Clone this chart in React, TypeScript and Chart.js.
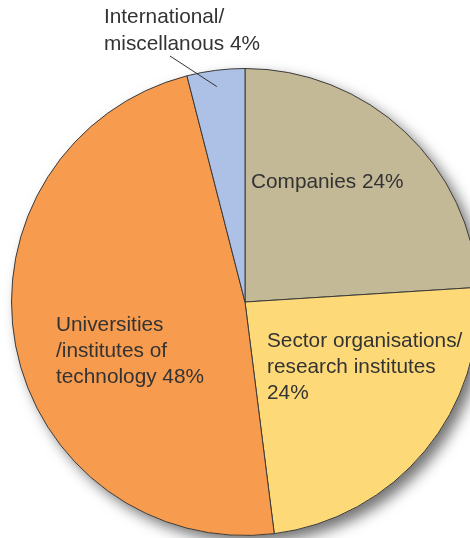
import React, { useEffect, useRef } from "react";
import { Chart, registerables } from "chart.js";

Chart.register(...registerables);

const categories = [
  "Companies",
  "Sector organisations/research institutes",
  "Universities/institutes of technology",
  "International/miscellanous",
];
const shares = [24, 24, 48, 4];
const sliceColors = ["#C3B996", "#FDD977", "#F79B4F", "#ADC1E6"];

// label text lines and their placement relative to the pie center (in px)
const labelLines = [
  { text: "Companies 24%", dx: 6, dy: -120 },
  { text: "Sector organisations/", dx: 22, dy: 39 },
  { text: "research institutes", dx: 22, dy: 65 },
  { text: "24%", dx: 22, dy: 91 },
  { text: "Universities", dx: -189, dy: 23 },
  { text: "/institutes of", dx: -189, dy: 49 },
  { text: "technology 48%", dx: -189, dy: 75 },
  { text: "International/", dx: -141, dy: -285 },
  { text: "miscellanous 4%", dx: -141, dy: -258 },
];

const shadowPlugin = {
  id: "pieShadow",
  beforeDatasetsDraw(chart: any) {
    const arc = chart.getDatasetMeta(0).data[0];
    if (!arc) return;
    const { x, y, outerRadius } = arc.getProps(["x", "y", "outerRadius"], true);
    const ctx = chart.ctx;
    ctx.save();
    ctx.shadowColor = "rgba(0,0,0,0.55)";
    ctx.shadowBlur = 14;
    ctx.shadowOffsetX = 7;
    ctx.shadowOffsetY = 7;
    ctx.fillStyle = "#ffffff";
    ctx.beginPath();
    ctx.arc(x, y, outerRadius, 0, Math.PI * 2);
    ctx.fill();
    ctx.restore();
  },
};

const labelPlugin = {
  id: "pieLabels",
  afterDatasetsDraw(chart: any) {
    const meta = chart.getDatasetMeta(0);
    const arc = meta.data[0];
    if (!arc) return;
    const { x, y, outerRadius } = arc.getProps(["x", "y", "outerRadius"], true);
    const ctx = chart.ctx;
    ctx.save();
    // leader line for the small slice
    const intl = meta.data[3];
    const p = intl.getProps(["startAngle", "endAngle"], true);
    const mid = (p.startAngle + p.endAngle) / 2;
    const r2 = outerRadius * 0.93;
    ctx.strokeStyle = "#333";
    ctx.lineWidth = 1;
    ctx.beginPath();
    ctx.moveTo(x - 75, y - 246);
    ctx.lineTo(x + Math.cos(mid) * r2 - 1, y + Math.sin(mid) * r2);
    ctx.stroke();

    ctx.fillStyle = "#333333";
    ctx.font = '20.8px "Liberation Sans", Arial, sans-serif';
    ctx.textBaseline = "middle";
    ctx.textAlign = "left";
    for (const l of labelLines) {
      ctx.fillText(l.text, x + l.dx, y + l.dy);
    }
    ctx.restore();
  },
};

export default function App() {
  const ref = useRef<HTMLCanvasElement | null>(null);
  useEffect(() => {
    if (!ref.current) return;
    const chart = new Chart(ref.current, {
      type: "pie",
      data: {
        labels: categories,
        datasets: [
          {
            data: shares,
            backgroundColor: sliceColors,
            borderColor: "#3a3a3a",
            borderWidth: 1,
          },
        ],
      },
      options: {
        responsive: false,
        animation: false,
        rotation: 0,
        layout: { padding: { left: 11, right: 11, top: 68, bottom: 68 } },
        plugins: {
          legend: { display: false },
          tooltip: { enabled: false },
          title: { display: false },
        },
      },
      plugins: [shadowPlugin, labelPlugin],
    });
    return () => chart.destroy();
  }, []);
  return (
    <div
      style={{
        position: "fixed",
        left: 0,
        top: 0,
        width: 470,
        height: 538,
        overflow: "hidden",
        background: "#fff",
      }}
    >
      <canvas ref={ref} width={490} height={604} style={{ display: "block" }} />
    </div>
  );
}
